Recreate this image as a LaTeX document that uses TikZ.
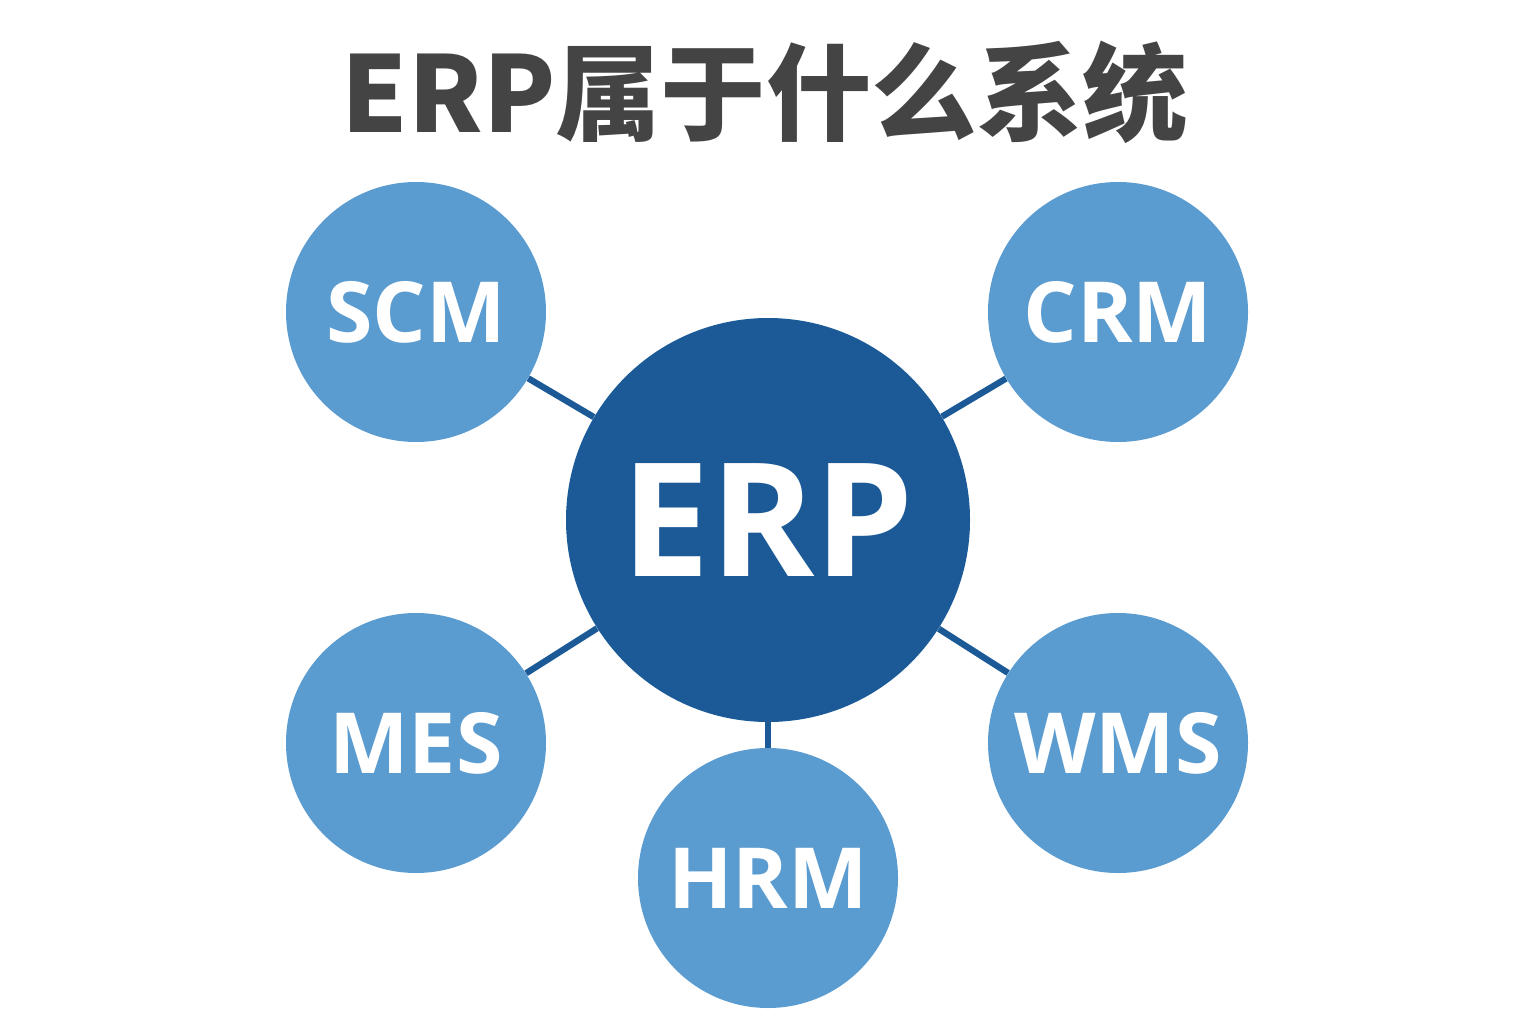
\documentclass[tikz,border=0pt]{standalone}
\usepackage{fontspec}
\setmainfont{Open Sans}
\newfontfamily\cjk{Noto Sans CJK SC}
\definecolor{clerp}{HTML}{1B5A96}
\definecolor{clsat}{HTML}{5A9BD0}
\definecolor{cltit}{HTML}{444444}
\tikzset{
    hub/.style={circle, fill=clerp, inner sep=0, minimum size=8.08cm, text=white,
        font=\bfseries\fontsize{90}{90}\selectfont},
    sat/.style={circle, fill=clsat, inner sep=0, minimum size=5.2cm, text=white,
        font=\bfseries\fontsize{48}{48}\selectfont},
    link/.style={draw=clerp, line width=3.6pt}
}

\begin{document}
\begin{tikzpicture}
    \useasboundingbox(0, 0) rectangle (30.72, 20.48);
    \node[font=\cjk\bfseries\fontsize{60}{60}\selectfont, text=cltit](title) at (15.3, 18.64){ERP属于什么系统};
    \node[hub](erp) at (15.36, 10.08){ERP};
    \node[sat](scm) at (8.32, 14.24){SCM};
    \node[sat](crm) at (22.36, 14.24){CRM};
    \node[sat](mes) at (8.32, 5.62){MES};
    \node[sat](wms) at (22.36, 5.62){WMS};
    \node[sat](hrm) at (15.36, 2.92){HRM};
    \foreach \s in {scm, crm, mes, wms, hrm}
        \draw[link](erp)--(\s);
\end{tikzpicture}
\end{document}
